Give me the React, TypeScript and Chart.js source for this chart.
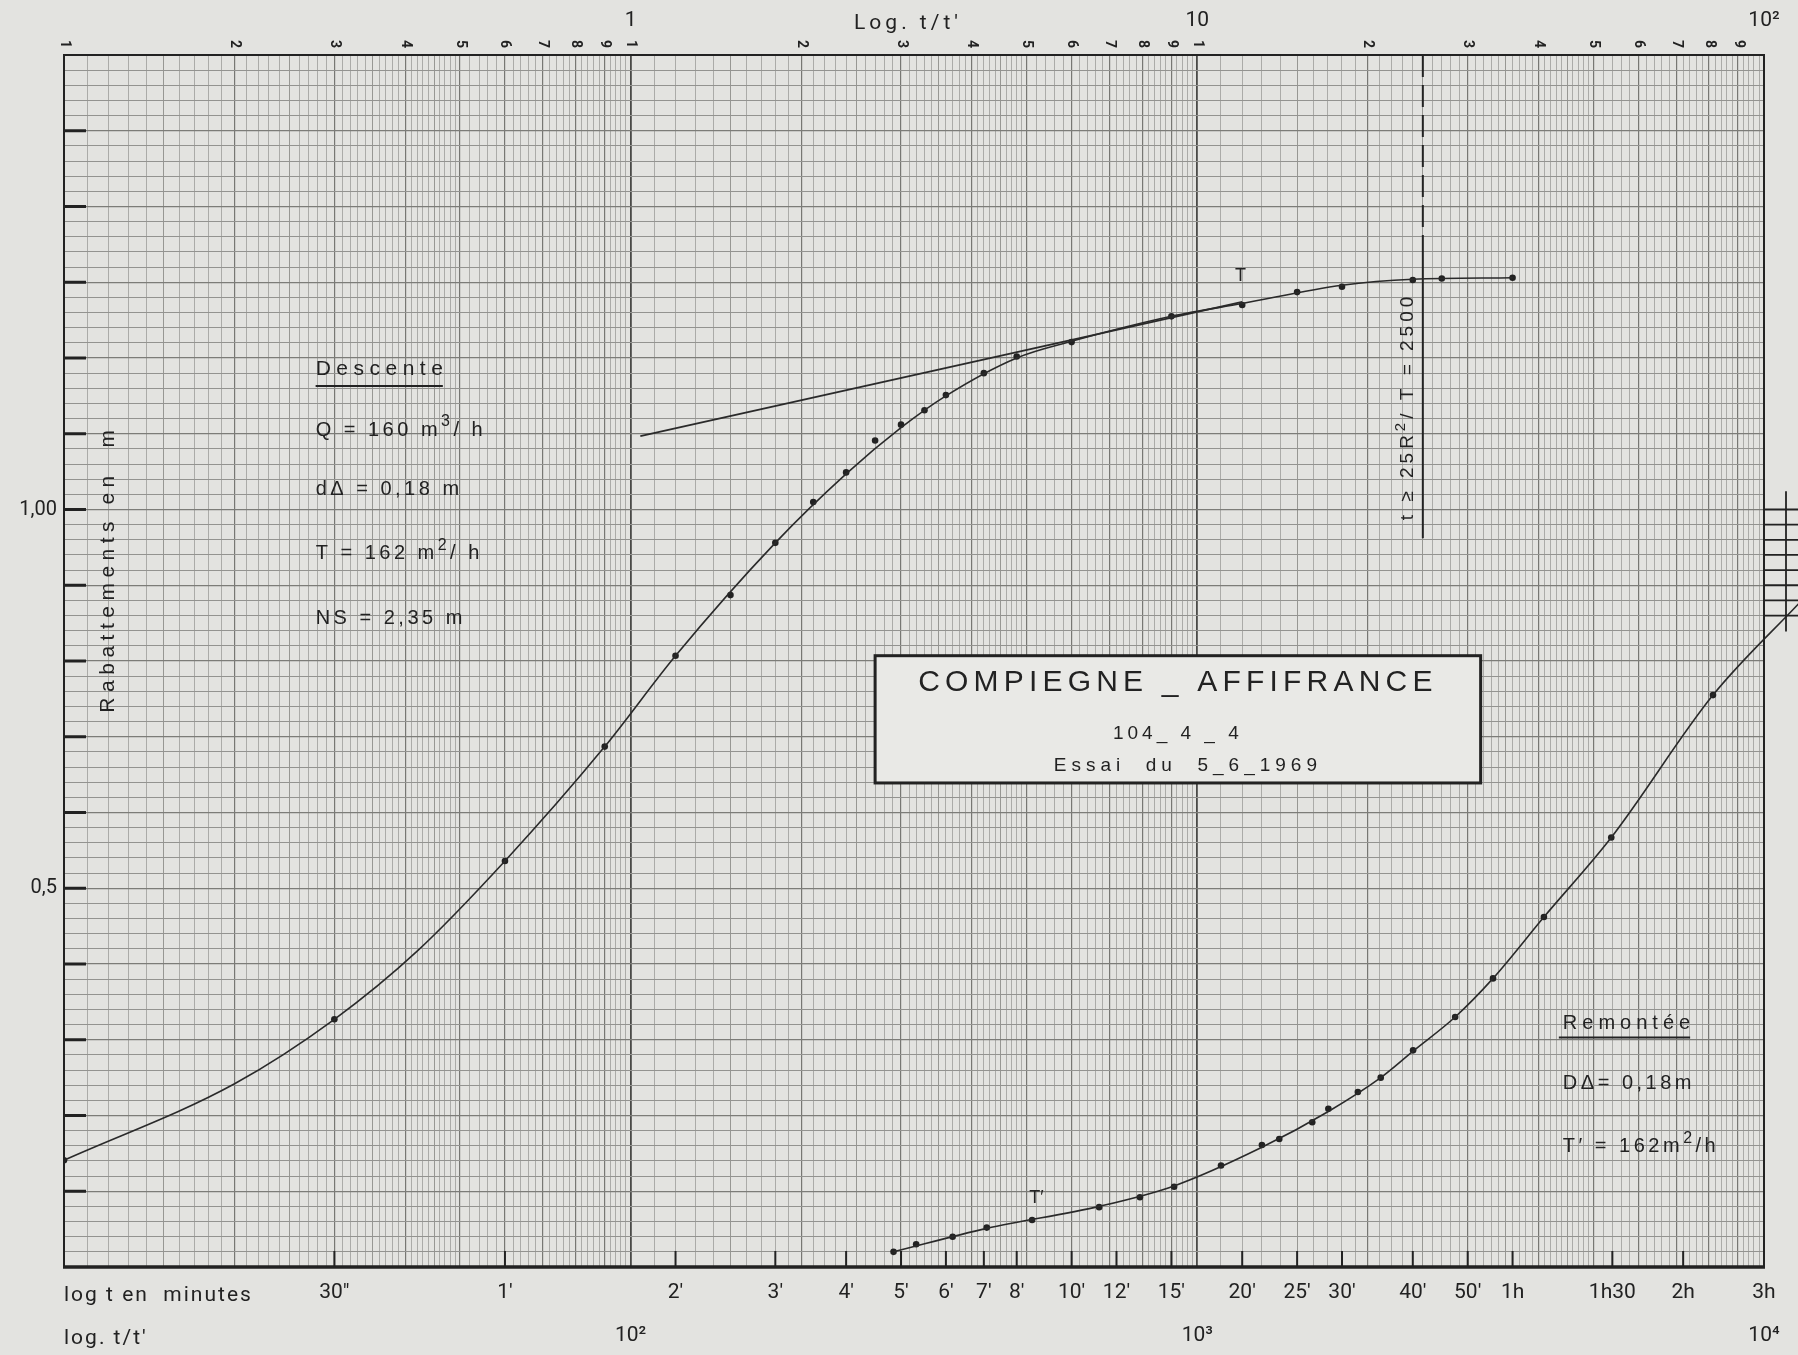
import React, { useEffect, useRef } from "react";
import { Chart, registerables } from "chart.js";

Chart.register(...registerables);

// ---------------- data (read from the sheet) ----------------
// Descente (pumping): measured points, time in seconds, drawdown in metres
const descenteTimeS = [10, 30, 60, 90, 120, 150, 180, 210, 240, 270, 300, 330, 360, 420, 480, 600, 900, 1200, 1500, 1800, 2400, 2700, 3600];
const descenteDrawdownM = [0.141, 0.327, 0.536, 0.687, 0.807, 0.887, 0.956, 1.01, 1.049, 1.091, 1.112, 1.131, 1.151, 1.18, 1.202, 1.221, 1.255, 1.27, 1.287, 1.294, 1.303, 1.305, 1.306];
// hand-drawn descente curve
const descenteCurveTimeS = [10, 20, 30, 42, 60, 90, 120, 180, 240, 300, 360, 480, 600, 900, 1200, 1800, 2400, 3600];
const descenteCurveM = [0.141, 0.242, 0.327, 0.417, 0.536, 0.687, 0.807, 0.956, 1.047, 1.108, 1.15, 1.2, 1.222, 1.255, 1.272, 1.296, 1.304, 1.306];

// Remontée (recovery): measured points
const remonteeTimeS = [291, 319, 370, 425, 511, 671, 792, 910, 1101, 1300, 1395, 1595, 1703, 1920, 2107, 2403, 2851, 3325, 4089, 5376, 8128];
const remonteeDrawdownM = [0.02, 0.03, 0.04, 0.052, 0.062, 0.079, 0.092, 0.106, 0.134, 0.161, 0.169, 0.191, 0.209, 0.231, 0.25, 0.286, 0.33, 0.381, 0.462, 0.567, 0.755];
// hand-drawn recovery curve (runs off the right edge of the sheet)
const remonteeCurveTimeS = [291, 425, 671, 910, 1300, 1700, 2107, 2403, 2851, 3325, 4089, 5376, 8128, 11590];
const remonteeCurveM = [0.02, 0.051, 0.08, 0.107, 0.158, 0.205, 0.25, 0.285, 0.33, 0.381, 0.462, 0.567, 0.755, 0.878];

// Jacob straight line (T)
const jacobTimeS = [104, 1200];
const jacobDrawdownM = [1.097, 1.274];

// limit t >= 25R²/T = 2500
const limitTimeS = 2500;
const limitDashedM = [1.6, 1.34];
const limitSolidM = [1.34, 0.962];

// axis ticks
const timeTickValues = [30, 60, 120, 180, 240, 300, 360, 420, 480, 600, 720, 900, 1200, 1500, 1800, 2400, 3000, 3600, 5400, 7200, 10000];
const timeTickLabels = ["30″", "1′", "2′", "3′", "4′", "5′", "6′", "7′", "8′", "10′", "12′", "15′", "20′", "25′", "30′", "40′", "50′", "1h", "1h30", "2h", "3h"];
const ratioBottomValues = [100, 1000, 10000];
const ratioBottomLabels = ["10²", "10³", "10⁴"];
const ratioTopValues = [100, 1000, 10000];
const ratioTopLabels = ["1", "10", "10²"];
const yLabelValues = [0.5, 1.0];
const yLabelTexts = ["0,5", "1,00"];

// ---------------- look ----------------
const CANVAS_W = 1798;
const CANVAS_H = 1355;
const X_MIN = 10;
const X_MAX = 10000;
const Y_MIN = 0;
const Y_MAX = 1.6;
const PAPER = "#e3e3e0";
const INK = "#222222";
const LINE = "#2a2a2a";
const LETTER = '"Liberation Sans", Arial, sans-serif';
const LABEL = 'Roboto, "Liberation Sans", sans-serif';

// log-paper rulings: 1..5 by 0.1, 5..10 by 0.2 in every decade
const xRulings: number[] = [];
for (let d = 10; d < X_MAX; d *= 10) {
  for (let k = 10; k < 100; k += k < 50 ? 1 : 2) xRulings.push((d * k) / 10);
}
xRulings.push(X_MAX);
const yRulings: number[] = [];
for (let i = 0; i <= 80; i++) yRulings.push((i * 2) / 100);

function mantissa(v: number) {
  const p = Math.pow(10, Math.floor(Math.log10(v) + 1e-9));
  return Math.round((v / p) * 10);
}
function xRuleColor(v: number) {
  const m = mantissa(v);
  if (m === 10) return "#4a4a47";
  if (m % 10 === 0) return "#777773";
  if (m % 5 === 0) return "#8e8e8a";
  return "#a5a5a1";
}
function xRuleWidth(v: number) {
  const m = mantissa(v);
  if (m === 10) return 1.8;
  if (m % 10 === 0) return 1.2;
  return 0.9;
}

type Seg = { t: string; sup?: boolean };

function drawRich(
  ctx: CanvasRenderingContext2D,
  segs: Seg[],
  x: number,
  y: number,
  size: number,
  spacing: number,
  align: "left" | "center",
  rot = 0,
  family = LETTER
) {
  ctx.save();
  ctx.translate(x, y);
  if (rot) ctx.rotate(rot);
  ctx.fillStyle = INK;
  ctx.textBaseline = "alphabetic";
  ctx.textAlign = "left";
  (ctx as any).letterSpacing = spacing + "px";
  const fontFor = (s: Seg) => `${s.sup ? Math.round(size * 0.78) : size}px ${family}`;
  let total = 0;
  const widths = segs.map((s) => {
    ctx.font = fontFor(s);
    const w = ctx.measureText(s.t).width;
    total += w;
    return w;
  });
  let cx = align === "center" ? -total / 2 : 0;
  const base = size * 0.36;
  segs.forEach((s, i) => {
    ctx.font = fontFor(s);
    ctx.fillText(s.t, cx, base - (s.sup ? size * 0.46 : 0));
    cx += widths[i];
  });
  ctx.restore();
  return total - spacing;
}

const sheetPlugin = {
  id: "sheet",
  beforeDraw(chart: any) {
    const ctx: CanvasRenderingContext2D = chart.ctx;
    ctx.save();
    ctx.fillStyle = PAPER;
    ctx.fillRect(0, 0, chart.width, chart.height);
    ctx.restore();
  },
  afterDatasetsDraw(chart: any) {
    const ctx: CanvasRenderingContext2D = chart.ctx;
    const a = chart.chartArea;
    const xs = chart.scales.x;
    const ys = chart.scales.y;
    const X = (v: number) => xs.getPixelForValue(v);
    const Y = (v: number) => ys.getPixelForValue(v);

    ctx.save();
    // frame
    ctx.strokeStyle = INK;
    ctx.lineWidth = 2;
    ctx.strokeRect(a.left, a.top, a.right - a.left, a.bottom - a.top);
    ctx.lineWidth = 3.5;
    ctx.beginPath();
    ctx.moveTo(a.left - 1, a.bottom);
    ctx.lineTo(a.right + 1, a.bottom);
    ctx.stroke();

    // heavy inner ticks on the drawdown axis, every 0.1 m
    ctx.lineWidth = 3;
    for (let i = 1; i <= 15; i++) {
      const y = Y(i / 10);
      ctx.beginPath();
      ctx.moveTo(a.left, y);
      ctx.lineTo(a.left + 22, y);
      ctx.stroke();
    }
    // time ticks rising from the bottom edge
    ctx.lineWidth = 2;
    timeTickValues.forEach((v) => {
      const x = X(v);
      ctx.beginPath();
      ctx.moveTo(x, a.bottom);
      ctx.lineTo(x, a.bottom - 16);
      ctx.stroke();
    });
    // marks outside the right edge
    ctx.lineWidth = 1.8;
    for (let i = 0; i <= 7; i++) {
      const y = Y(0.86 + i * 0.02);
      ctx.beginPath();
      ctx.moveTo(a.right, y);
      ctx.lineTo(a.right + 34, y);
      ctx.stroke();
    }
    ctx.beginPath();
    ctx.moveTo(a.right + 22, Y(1.024));
    ctx.lineTo(a.right + 22, Y(0.839));
    ctx.stroke();

    // title box
    const bx0 = X(270), bx1 = X(3162), by0 = Y(0.807), by1 = Y(0.639);
    ctx.fillStyle = "#e9e9e6";
    ctx.fillRect(bx0, by0, bx1 - bx0, by1 - by0);
    ctx.lineWidth = 3;
    ctx.strokeStyle = INK;
    ctx.strokeRect(bx0, by0, bx1 - bx0, by1 - by0);
    const bc = (bx0 + bx1) / 2;
    drawRich(ctx, [{ t: "COMPIEGNE _ AFFIFRANCE" }], bc, Y(0.774), 30, 5.2, "center");
    drawRich(ctx, [{ t: "104_ 4 _ 4" }], bc, Y(0.706), 19, 4, "center");
    drawRich(ctx, [{ t: "Essai  du  5_6_1969" }], bc + 10, Y(0.664), 19, 5, "center");

    // Descente block
    const dl = X(27.8);
    const w1 = drawRich(ctx, [{ t: "Descente" }], dl, Y(1.187), 21, 5.5, "left");
    ctx.lineWidth = 2;
    ctx.beginPath();
    ctx.moveTo(dl, Y(1.163));
    ctx.lineTo(dl + w1, Y(1.163));
    ctx.stroke();
    drawRich(ctx, [{ t: "Q = 160 m" }, { t: "3", sup: true }, { t: "/ h" }], dl, Y(1.107), 20, 3.5, "left");
    drawRich(ctx, [{ t: "dΔ = 0,18 m" }], dl, Y(1.028), 20, 3.5, "left");
    drawRich(ctx, [{ t: "T = 162 m" }, { t: "2", sup: true }, { t: "/ h" }], dl, Y(0.944), 20, 3.5, "left");
    drawRich(ctx, [{ t: "NS = 2,35 m" }], dl, Y(0.858), 20, 3.5, "left");

    // Remontée block
    const rl = X(4416);
    const w2 = drawRich(ctx, [{ t: "Remontée" }], rl, Y(0.324), 20, 5, "left");
    ctx.beginPath();
    ctx.moveTo(rl - 4, Y(0.303));
    ctx.lineTo(rl + w2, Y(0.303));
    ctx.stroke();
    drawRich(ctx, [{ t: "DΔ= 0,18m" }], rl, Y(0.245), 20, 3.5, "left");
    drawRich(ctx, [{ t: "T′ = 162m" }, { t: "2", sup: true }, { t: "/h" }], rl, Y(0.161), 20, 3.5, "left");

    // curve labels
    drawRich(ctx, [{ t: "T" }], X(1192), Y(1.31), 18, 0, "center");
    drawRich(ctx, [{ t: "T′" }], X(520), Y(0.093), 18, 0, "center");

    // limit label (reads upward)
    drawRich(ctx, [{ t: "t ≥ 25R" }, { t: "2", sup: true }, { t: "/ T = 2500" }], X(2339), Y(1.136), 19, 4, "center", -Math.PI / 2);

    // drawdown axis title, inside the sheet
    drawRich(ctx, [{ t: "Rabattements en  m" }], X(11.9), Y(0.922), 21, 5.5, "center", -Math.PI / 2);

    // texts around the sheet
    drawRich(ctx, [{ t: "log t en  minutes" }], a.left, a.bottom + 26, 21, 2, "left", 0, LABEL);
    drawRich(ctx, [{ t: "log. t/t′" }], a.left, a.bottom + 69, 21, 2, "left", 0, LABEL);
    drawRich(ctx, [{ t: "Log. t/t′" }], (a.left + a.right) / 2 - 6, 21, 21, 4, "center", 0, LABEL);

    // rotated mantissa digits along the top (t/t' from 0.1 to 100)
    const top = chart.scales.xTopDigits;
    ctx.fillStyle = INK;
    ctx.font = `bold 14px ${LABEL}`;
    ctx.textAlign = "center";
    ctx.textBaseline = "middle";
    (ctx as any).letterSpacing = "0px";
    for (let d = 10; d < X_MAX; d *= 10) {
      for (let k = 1; k <= 9; k++) {
        const x = top.getPixelForValue(d * k);
        ctx.save();
        ctx.translate(x, top.top + 11);
        ctx.rotate(Math.PI / 2);
        ctx.fillText(String(k), 0, 0);
        ctx.restore();
      }
    }
    ctx.restore();
  },
};

const pts = (xs: number[], ys: number[]) => xs.map((x, i) => ({ x, y: ys[i] }));

const logAxis = (extra: any) => ({
  type: "logarithmic",
  axis: "x",
  min: X_MIN,
  max: X_MAX,
  border: { display: false },
  ...extra,
});

const curveStyle = {
  showLine: true,
  pointRadius: 0,
  borderColor: LINE,
  borderWidth: 1.6,
  cubicInterpolationMode: "monotone",
};
const dotStyle = {
  showLine: false,
  pointRadius: 3.3,
  pointBorderWidth: 0,
  pointBackgroundColor: INK,
};

export default function App() {
  const ref = useRef<HTMLCanvasElement>(null);
  useEffect(() => {
    document.body.style.margin = "0";
    document.body.style.background = PAPER;
    const chart = new Chart(ref.current as HTMLCanvasElement, {
      type: "scatter",
      data: {
        datasets: [
          { label: "Droite de Jacob", data: pts(jacobTimeS, jacobDrawdownM), showLine: true, pointRadius: 0, borderColor: LINE, borderWidth: 1.8 },
          { label: "Descente (courbe)", data: pts(descenteCurveTimeS, descenteCurveM), ...curveStyle },
          { label: "Descente", data: pts(descenteTimeS, descenteDrawdownM), ...dotStyle },
          { label: "Remontée (courbe)", data: pts(remonteeCurveTimeS, remonteeCurveM), ...curveStyle, clip: false },
          { label: "Remontée", data: pts(remonteeTimeS, remonteeDrawdownM), ...dotStyle },
          {
            label: "limite (tirets)",
            data: limitDashedM.map((y) => ({ x: limitTimeS, y })),
            showLine: true,
            pointRadius: 0,
            borderColor: INK,
            borderWidth: 2,
            borderDash: [22, 8],
          },
          {
            label: "limite",
            data: limitSolidM.map((y) => ({ x: limitTimeS, y })),
            showLine: true,
            pointRadius: 0,
            borderColor: INK,
            borderWidth: 2,
          },
        ],
      } as any,
      options: {
        responsive: false,
        animation: false,
        events: [],
        layout: { padding: { left: 0, right: 34, top: 0, bottom: 0 } },
        plugins: { legend: { display: false }, tooltip: { enabled: false } },
        scales: {
          x: logAxis({
            position: "bottom",
            weight: 0,
            afterBuildTicks: (s: any) => {
              s.ticks = xRulings.map((v) => ({ value: v }));
            },
            afterFit: (s: any) => {
              s.height = 0;
            },
            ticks: { display: false },
            grid: {
              drawTicks: false,
              color: (c: any) => xRuleColor(c.tick.value),
              lineWidth: (c: any) => xRuleWidth(c.tick.value),
            },
          }),
          xTime: logAxis({
            position: "bottom",
            weight: 1,
            afterBuildTicks: (s: any) => {
              s.ticks = timeTickValues.map((v) => ({ value: v }));
            },
            afterFit: (s: any) => {
              s.height = 46;
            },
            ticks: {
              autoSkip: false,
              maxRotation: 0,
              minRotation: 0,
              padding: 13,
              color: INK,
              font: { family: LABEL, size: 21 },
              callback: (_v: any, i: number) => timeTickLabels[i],
            },
            grid: { display: false, drawTicks: false },
          }),
          xPow: logAxis({
            position: "bottom",
            weight: 2,
            afterBuildTicks: (s: any) => {
              s.ticks = ratioBottomValues.map((v) => ({ value: v }));
            },
            afterFit: (s: any) => {
              s.height = 42;
            },
            ticks: {
              autoSkip: false,
              maxRotation: 0,
              minRotation: 0,
              padding: 10,
              color: INK,
              font: { family: LABEL, size: 21 },
              callback: (_v: any, i: number) => ratioBottomLabels[i],
            },
            grid: { display: false, drawTicks: false },
          }),
          xTopDigits: logAxis({
            position: "top",
            weight: 1,
            afterFit: (s: any) => {
              s.height = 22;
            },
            ticks: { display: false },
            grid: { display: false, drawTicks: false },
          }),
          xTopBig: logAxis({
            position: "top",
            weight: 2,
            afterBuildTicks: (s: any) => {
              s.ticks = ratioTopValues.map((v) => ({ value: v }));
            },
            afterFit: (s: any) => {
              s.height = 33;
            },
            ticks: {
              autoSkip: false,
              maxRotation: 0,
              minRotation: 0,
              padding: 0,
              color: INK,
              font: { family: LABEL, size: 21 },
              callback: (_v: any, i: number) => ratioTopLabels[i],
            },
            grid: { display: false, drawTicks: false },
          }),
          y: {
            type: "linear",
            position: "left",
            min: Y_MIN,
            max: Y_MAX,
            afterBuildTicks: (s: any) => {
              s.ticks = yRulings.map((v) => ({ value: v }));
            },
            afterFit: (s: any) => {
              s.width = 64;
            },
            border: { display: false },
            ticks: {
              autoSkip: false,
              padding: 7,
              color: INK,
              font: { family: LABEL, size: 20 },
              callback: (v: any) => {
                const i = yLabelValues.findIndex((t) => Math.abs(t - v) < 1e-6);
                return i >= 0 ? yLabelTexts[i] : "";
              },
            },
            grid: {
              drawTicks: false,
              color: (c: any) => (c.index % 5 === 0 ? "#7c7c78" : "#939390"),
              lineWidth: (c: any) => (c.index % 5 === 0 ? 1.3 : 1),
            },
          },
        },
      } as any,
      plugins: [sheetPlugin],
    });
    return () => chart.destroy();
  }, []);
  return (
    <div style={{ position: "absolute", left: 0, top: 0, width: CANVAS_W, height: CANVAS_H }}>
      <canvas ref={ref} width={CANVAS_W} height={CANVAS_H} style={{ display: "block", width: CANVAS_W, height: CANVAS_H }} />
    </div>
  );
}
